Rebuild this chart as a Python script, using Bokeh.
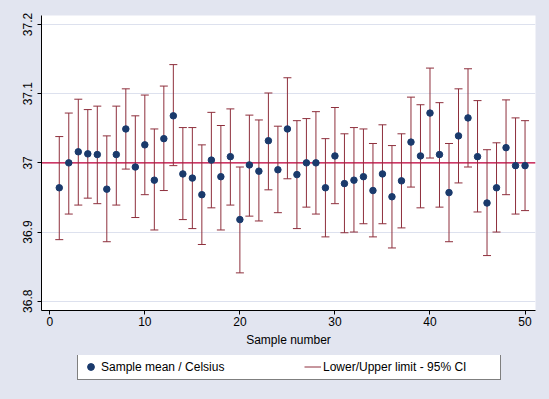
from bokeh.plotting import figure
from bokeh.layouts import column
from bokeh.models import (Span, Legend, LegendItem, FixedTicker, ColumnDataSource, Range1d)
from bokeh.embed import file_html
from bokeh.resources import INLINE

# ---- data ----
sample = list(range(1, 51))
mean = [36.964, 37.000, 37.016, 37.013, 37.012, 36.962, 37.012, 37.049, 36.994, 37.026,
        36.975, 37.035, 37.068, 36.984, 36.978, 36.954, 37.004, 36.980, 37.009, 36.918,
        36.997, 36.988, 37.032, 36.990, 37.049, 36.983, 37.000, 37.000, 36.964, 37.010,
        36.970, 36.975, 36.980, 36.960, 36.984, 36.951, 36.974, 37.030, 37.010, 37.072,
        37.012, 36.957, 37.039, 37.065, 37.009, 36.942, 36.964, 37.022, 36.996, 36.996]
upper = [37.038, 37.072, 37.092, 37.077, 37.082, 37.039, 37.082, 37.107, 37.068, 37.098,
         37.049, 37.111, 37.142, 37.051, 37.051, 37.026, 37.073, 37.054, 37.078, 36.994,
         37.069, 37.062, 37.101, 37.053, 37.123, 37.061, 37.064, 37.074, 37.035, 37.080,
         37.042, 37.051, 37.049, 37.028, 37.055, 37.025, 37.042, 37.095, 37.084, 37.137,
         37.087, 37.028, 37.107, 37.136, 37.090, 37.019, 37.029, 37.091, 37.065, 37.061]
lower = [36.889, 36.926, 36.939, 36.949, 36.941, 36.886, 36.939, 36.991, 36.921, 36.954,
         36.903, 36.960, 36.996, 36.918, 36.905, 36.882, 36.935, 36.903, 36.939, 36.841,
         36.923, 36.916, 36.961, 36.928, 36.977, 36.905, 36.936, 36.926, 36.893, 36.941,
         36.899, 36.900, 36.912, 36.893, 36.912, 36.877, 36.906, 36.965, 36.935, 37.007,
         36.936, 36.886, 36.971, 36.994, 36.929, 36.866, 36.900, 36.954, 36.926, 36.931]
reference_value = 37.0
xticks = [0, 10, 20, 30, 40, 50]
yticks = [36.8, 36.9, 37.0, 37.1, 37.2]
ylabels = ["36.8", "36.9", "37", "37.1", "37.2"]
x_title = "Sample number"
legend_labels = ["Sample mean / Celsius", "Lower/Upper limit - 95% CI"]

BG = "#e2e5f0"
NAVY = "#1a3a6c"
MAROON = "#8e2f3c"
RED = "#c4003a"
GRID = "#dde1ee"
FONT = "Liberation Sans"

src = ColumnDataSource(dict(x=sample, mean=mean, lo=lower, hi=upper))

p = figure(width=549, height=355, output_backend="svg", toolbar_location=None,
           x_range=Range1d(-0.87, 51.1), y_range=Range1d(36.7866, 37.213),
           min_border_left=41, min_border_right=14, min_border_top=15, min_border_bottom=45)
p.background_fill_color = "white"
p.border_fill_color = BG
p.outline_line_color = None

# reference line
p.add_layout(Span(location=reference_value, dimension="width", line_color=RED,
                  line_width=1.2, level="underlay"))

# error bars
bar_style = dict(line_color=MAROON, line_width=1)
seg = p.segment(x0="x", y0="lo", x1="x", y1="hi", source=src, **bar_style)
p.scatter(x="x", y="lo", source=src, marker="dash", size=8, **bar_style)
p.scatter(x="x", y="hi", source=src, marker="dash", size=8, **bar_style)

# means
pt_style = dict(marker="circle", size=6.5, fill_color=NAVY, line_color=NAVY)
pts = p.scatter(x="x", y="mean", source=src, **pt_style)

# axes
p.xaxis.ticker = FixedTicker(ticks=xticks)
p.yaxis.ticker = FixedTicker(ticks=yticks)
p.yaxis.major_label_overrides = {t: l for t, l in zip(yticks, ylabels)}
p.yaxis.major_label_orientation = "vertical"
for ax in (p.xaxis, p.yaxis):
    ax.axis_line_color = "black"
    ax.axis_line_width = 1
    ax.major_tick_line_color = "black"
    ax.major_tick_out = 4
    ax.major_tick_in = 0
    ax.minor_tick_line_color = None
    ax.major_label_text_font = FONT
    ax.major_label_text_font_size = "12px"
    ax.major_label_text_color = "black"
p.xaxis.major_label_standoff = 2
p.yaxis.major_label_standoff = 5
p.xaxis.axis_label = x_title
p.xaxis.axis_label_text_font = FONT
p.xaxis.axis_label_text_font_size = "12px"
p.xaxis.axis_label_text_font_style = "normal"
p.xaxis.axis_label_text_color = "black"
p.xaxis.axis_label_standoff = 4

p.xgrid.grid_line_color = None
p.ygrid.grid_line_color = GRID
p.ygrid.grid_line_width = 1

# legend strip below the plot; its key renderers are hidden (not drawn), only used for the keys
lg = figure(width=549, height=44, output_backend="svg", toolbar_location=None,
            x_range=Range1d(0, 1), y_range=Range1d(0, 1),
            x_axis_location=None, y_axis_location=None,
            min_border_left=41, min_border_right=14, min_border_top=0, min_border_bottom=0)
lg.background_fill_color = BG
lg.border_fill_color = BG
lg.outline_line_color = None
lg.grid.grid_line_color = None
pts_l = lg.scatter(x="x", y="mean", source=src, visible=False, **pt_style)
seg_l = lg.segment(x0="x", y0="lo", x1="x", y1="hi", source=src, visible=False, **bar_style)

legend = Legend(items=[LegendItem(label=legend_labels[0], renderers=[pts_l]),
                       LegendItem(label=legend_labels[1], renderers=[seg_l])],
                orientation="horizontal", location=(36, 19),
                glyph_width=17, glyph_height=17, label_width=173, label_standoff=2,
                spacing=30, padding=4, margin=0,
                border_line_color="black", border_line_width=1,
                background_fill_color="white", background_fill_alpha=1,
                inactive_fill_alpha=0,
                label_text_font=FONT, label_text_font_size="12px", label_text_color="black")
lg.add_layout(legend, "center")

layout = column(p, lg, spacing=0)
html = file_html(layout, INLINE)
html = html.replace("<head>", "<head><style>body{background:%s;}</style>" % BG, 1)
open("out.html", "w").write(html)
